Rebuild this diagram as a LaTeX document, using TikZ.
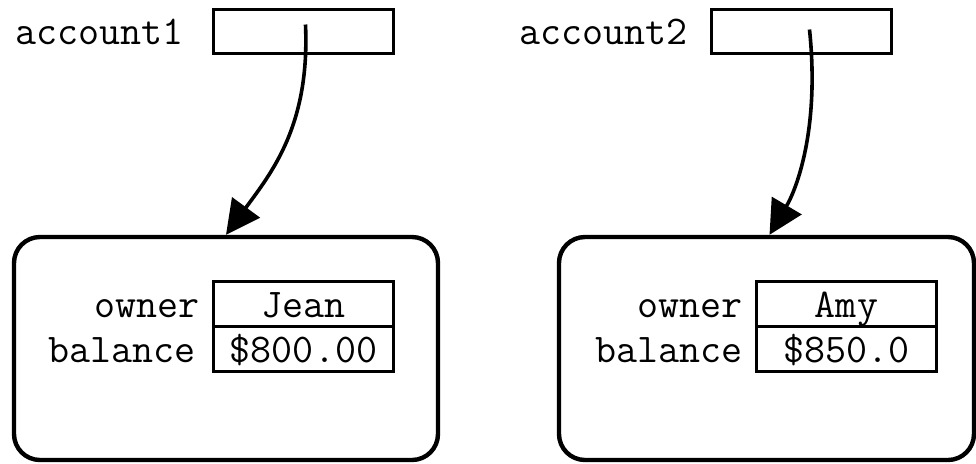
\documentclass[tikz,border=0pt]{standalone}
\usepackage{fontspec}
\usetikzlibrary{positioning,calc,arrows.meta}

\tikzset{
	mono/.style={font=\ttfamily\fontsize{20.4pt}{22pt}\selectfont, text height=13pt, text depth=0pt},
	refbox/.style={draw, line width=1.8pt, minimum width=90pt, minimum height=22pt, inner sep=0pt},
	objbox/.style={draw, line width=2.2pt, rounded corners=13pt, inner sep=0pt},
	field/.style={mono, draw, line width=1.9pt, minimum width=90pt, minimum height=22.5pt, inner sep=0pt, outer sep=0pt},
	fieldname/.style={mono, inner sep=0pt, anchor=east},
	pointer/.style={line width=1.8pt, -{Triangle[length=17pt,width=17pt]}},
}

\begin{document}
\begin{tikzpicture}[x=0.5pt,y=-0.5pt]
	\useasboundingbox (0,0) rectangle (976,463);
	% first reference and its object
	\node[refbox] at (303.5,31.5) (ref1) {};
	\node[mono, inner sep=0pt, left=14pt of ref1] (lbl1) {account1};
	\node[objbox, minimum width=212pt, minimum height=111.5pt] at (226,348.5) (obj1) {};
	\node[field] at (303.5,304) (owner1) {Jean};
	\node[field, below=0pt of owner1] (bal1) {\$800.00};
	\node[fieldname, left=7pt of owner1.west] (ownerlbl1) {owner};
	\node[fieldname, left=9pt of bal1.west] (ballbl1) {balance};
	\coordinate (tail1) at ($(ref1.center)+(2,-7)$);
	%
	% second reference and its object
	\node[refbox] at (801.5,31.5) (ref2) {};
	\node[mono, inner sep=0pt, left=11pt of ref2] (lbl2) {account2};
	\node[objbox, minimum width=207.5pt, minimum height=111.5pt] at (766.5,348.5) (obj2) {};
	\node[field] at (846.5,304) (owner2) {Amy};
	\node[field, below=0pt of owner2] (bal2) {\$850.0};
	\node[fieldname, left=7pt of owner2.west] (ownerlbl2) {owner};
	\node[fieldname, left=7pt of bal2.west] (ballbl2) {balance};
	\coordinate (tail2) at ($(ref2.center)+(8,-2)$);
	%
	\draw[pointer] (tail1) .. controls (310,125) and (272,172) .. (obj1.north);
	\draw[pointer] (tail2) .. controls (820,130) and (796,190) .. ($(obj2.north)+(3,0)$);
\end{tikzpicture}
\end{document}
